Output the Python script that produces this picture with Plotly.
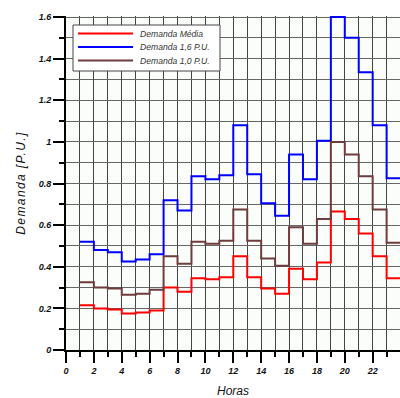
import plotly.graph_objects as go

hours = list(range(1, 24))
demanda_media = [0.215, 0.20, 0.195, 0.175, 0.18, 0.19, 0.30, 0.28, 0.345, 0.34, 0.35, 0.45,
                 0.35, 0.295, 0.27, 0.39, 0.34, 0.42, 0.665, 0.63, 0.56, 0.45, 0.345]
demanda_16 = [0.52, 0.48, 0.47, 0.425, 0.435, 0.46, 0.72, 0.67, 0.835, 0.82, 0.84, 1.08,
              0.845, 0.705, 0.645, 0.94, 0.82, 1.005, 1.60, 1.50, 1.335, 1.08, 0.825]
demanda_10 = [0.325, 0.30, 0.295, 0.265, 0.27, 0.29, 0.45, 0.415, 0.52, 0.51, 0.525, 0.675,
              0.525, 0.44, 0.405, 0.59, 0.51, 0.63, 1.0, 0.94, 0.835, 0.675, 0.515]
names = ["Demanda Média", "Demanda 1,6 P.U.", "Demanda 1,0 P.U."]
colors = ["#ff0000", "#0000ff", "#6e3c3c"]

x_ticks = list(range(0, 25, 2))
y_ticks = [0, 0.2, 0.4, 0.6, 0.8, 1, 1.2, 1.4, 1.6]
y_labels = ["0", "0.2", "0.4", "0.6", "0.8", "1", "1.2", "1.4", "1.6"]

fig = go.Figure()
for name, vals, col in zip(names, [demanda_media, demanda_16, demanda_10], colors):
    xs = hours + [hours[-1] + 1]
    ys = vals + [vals[-1]]
    fig.add_trace(go.Scatter(x=xs, y=ys, mode="lines", name=name, showlegend=False,
                             line=dict(color=col, width=2, shape="hv")))

# legend box drawn in paper coordinates
W, H = 334.0, 334.0
def px(v):
    return (v - 66) / W
def py(v):
    return (350 - v) / H

shapes = [dict(type="rect", xref="paper", yref="paper", x0=px(73), x1=px(220),
               y0=py(71), y1=py(25), fillcolor="white", line=dict(color="#444", width=1),
               layer="above")]
annotations = []
row_y = [33.5, 47, 60.5]
for name, col, ry in zip(names, colors, row_y):
    shapes.append(dict(type="line", xref="paper", yref="paper", x0=px(78), x1=px(133),
                       y0=py(ry), y1=py(ry), line=dict(color=col, width=2), layer="above"))
    annotations.append(dict(xref="paper", yref="paper", x=px(138), y=py(ry), text=name,
                            showarrow=False, xanchor="left", yanchor="middle",
                            font=dict(family="Liberation Sans, Arial", size=8.6, color="#333",
                                      style="italic")))

tickfont = dict(family="Liberation Sans, Arial", size=9, color="#111", weight="bold", style="italic")
fig.update_layout(
    width=400, height=398,
    margin=dict(l=66, r=0, t=16, b=48),
    paper_bgcolor="white",
    plot_bgcolor="#fbfdfb",
    shapes=shapes,
    annotations=annotations,
    xaxis=dict(range=[0, 23.96], tickmode="array", tickvals=x_ticks,
               ticktext=[str(v) for v in x_ticks],
               showgrid=True, gridcolor="#444", gridwidth=1,
               minor=dict(dtick=1, showgrid=True, gridcolor="#444", gridwidth=1,
                          ticks="outside", ticklen=5, tickcolor="#000", tickwidth=2),
               ticks="outside", ticklen=11, tickcolor="#000", tickwidth=2,
               showline=True, linecolor="#000", linewidth=2,
               zeroline=False, tickfont=tickfont,
               title=dict(text="Horas", standoff=13,
                          font=dict(family="Liberation Sans, Arial", size=12, color="#111", style="italic"))),
    yaxis=dict(range=[0, 1.605], tickmode="array", tickvals=y_ticks, ticktext=y_labels,
               showgrid=True, gridcolor="#666", gridwidth=1,
               minor=dict(dtick=0.1, showgrid=True, gridcolor="#666", gridwidth=1,
                          ticks="outside", ticklen=5, tickcolor="#000", tickwidth=2),
               ticks="outside", ticklen=11, tickcolor="#000", tickwidth=2,
               showline=True, linecolor="#000", linewidth=2,
               zeroline=False, tickfont=tickfont,
               title=dict(text='<span style="letter-spacing:1.4px">Demanda [P.U.]</span>', standoff=10,
                          font=dict(family="Liberation Sans, Arial", size=12, color="#111", style="italic"))),
)

fig.write_html("out.html")
